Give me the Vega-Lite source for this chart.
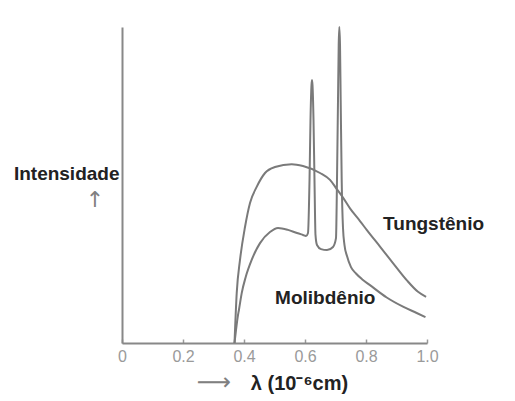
{
  "$schema": "https://vega.github.io/schema/vega-lite/v6.json",
  "width": 305,
  "height": 316,
  "autosize": {"type": "none"},
  "padding": {"left": 122, "top": 27, "right": 88, "bottom": 58},
  "background": "white",
  "config": {"view": {"stroke": null}},
  "datasets": {
    "curves": [
      {"serie": "Tungstênio", "lambda": 0.3689, "I": 0},
      {"serie": "Tungstênio", "lambda": 0.3761, "I": 15.8},
      {"serie": "Tungstênio", "lambda": 0.3869, "I": 26.3},
      {"serie": "Tungstênio", "lambda": 0.4033, "I": 36.7},
      {"serie": "Tungstênio", "lambda": 0.4197, "I": 44.3},
      {"serie": "Tungstênio", "lambda": 0.4416, "I": 49.4},
      {"serie": "Tungstênio", "lambda": 0.4689, "I": 53.8},
      {"serie": "Tungstênio", "lambda": 0.5016, "I": 55.7},
      {"serie": "Tungstênio", "lambda": 0.5564, "I": 56.6},
      {"serie": "Tungstênio", "lambda": 0.5934, "I": 56.0},
      {"serie": "Tungstênio", "lambda": 0.6492, "I": 53.8},
      {"serie": "Tungstênio", "lambda": 0.682, "I": 51.6},
      {"serie": "Tungstênio", "lambda": 0.7049, "I": 48.6},
      {"serie": "Tungstênio", "lambda": 0.7246, "I": 46.0},
      {"serie": "Tungstênio", "lambda": 0.7475, "I": 42.6},
      {"serie": "Tungstênio", "lambda": 0.7803, "I": 38.6},
      {"serie": "Tungstênio", "lambda": 0.8023, "I": 35.8},
      {"serie": "Tungstênio", "lambda": 0.8459, "I": 30.5},
      {"serie": "Tungstênio", "lambda": 0.8885, "I": 25.3},
      {"serie": "Tungstênio", "lambda": 0.9334, "I": 19.9},
      {"serie": "Tungstênio", "lambda": 0.9705, "I": 16.2},
      {"serie": "Tungstênio", "lambda": 0.997, "I": 14.6},
      {"serie": "Molibdênio", "lambda": 0.3689, "I": 0},
      {"serie": "Molibdênio", "lambda": 0.3738, "I": 4.1},
      {"serie": "Molibdênio", "lambda": 0.3793, "I": 8.2},
      {"serie": "Molibdênio", "lambda": 0.3836, "I": 10.6},
      {"serie": "Molibdênio", "lambda": 0.3925, "I": 15.8},
      {"serie": "Molibdênio", "lambda": 0.4056, "I": 20.9},
      {"serie": "Molibdênio", "lambda": 0.4252, "I": 26.3},
      {"serie": "Molibdênio", "lambda": 0.4525, "I": 31.6},
      {"serie": "Molibdênio", "lambda": 0.4852, "I": 35.1},
      {"serie": "Molibdênio", "lambda": 0.5115, "I": 36.4},
      {"serie": "Molibdênio", "lambda": 0.5443, "I": 35.8},
      {"serie": "Molibdênio", "lambda": 0.5738, "I": 34.8},
      {"serie": "Molibdênio", "lambda": 0.5934, "I": 34.2},
      {"serie": "Molibdênio", "lambda": 0.6033, "I": 33.9},
      {"serie": "Molibdênio", "lambda": 0.6098, "I": 34.8},
      {"serie": "Molibdênio", "lambda": 0.6148, "I": 51.6},
      {"serie": "Molibdênio", "lambda": 0.618, "I": 70.6},
      {"serie": "Molibdênio", "lambda": 0.6213, "I": 81.6},
      {"serie": "Molibdênio", "lambda": 0.623, "I": 83.2},
      {"serie": "Molibdênio", "lambda": 0.6246, "I": 81.6},
      {"serie": "Molibdênio", "lambda": 0.6279, "I": 70.6},
      {"serie": "Molibdênio", "lambda": 0.6311, "I": 51.6},
      {"serie": "Molibdênio", "lambda": 0.6344, "I": 34.2},
      {"serie": "Molibdênio", "lambda": 0.6393, "I": 31.0},
      {"serie": "Molibdênio", "lambda": 0.6525, "I": 29.7},
      {"serie": "Molibdênio", "lambda": 0.6721, "I": 29.4},
      {"serie": "Molibdênio", "lambda": 0.6918, "I": 30.4},
      {"serie": "Molibdênio", "lambda": 0.7016, "I": 33.2},
      {"serie": "Molibdênio", "lambda": 0.7049, "I": 51.6},
      {"serie": "Molibdênio", "lambda": 0.7082, "I": 76.9},
      {"serie": "Molibdênio", "lambda": 0.7105, "I": 94.3},
      {"serie": "Molibdênio", "lambda": 0.7125, "I": 100},
      {"serie": "Molibdênio", "lambda": 0.7148, "I": 94.3},
      {"serie": "Molibdênio", "lambda": 0.717, "I": 76.9},
      {"serie": "Molibdênio", "lambda": 0.7203, "I": 51.6},
      {"serie": "Molibdênio", "lambda": 0.7246, "I": 36.4},
      {"serie": "Molibdênio", "lambda": 0.7295, "I": 31.0},
      {"serie": "Molibdênio", "lambda": 0.7377, "I": 27.5},
      {"serie": "Molibdênio", "lambda": 0.7508, "I": 24.0},
      {"serie": "Molibdênio", "lambda": 0.7672, "I": 22.0},
      {"serie": "Molibdênio", "lambda": 0.7869, "I": 20.2},
      {"serie": "Molibdênio", "lambda": 0.8131, "I": 18.3},
      {"serie": "Molibdênio", "lambda": 0.8679, "I": 14.4},
      {"serie": "Molibdênio", "lambda": 0.9213, "I": 11.5},
      {"serie": "Molibdênio", "lambda": 0.9662, "I": 9.5},
      {"serie": "Molibdênio", "lambda": 0.995, "I": 8.2}
    ],
    "labels": [
      {"label": "Tungstênio", "lambda": 0.856, "I": 37.7},
      {"label": "Molibdênio", "lambda": 0.502, "I": 14.2}
    ],
    "arrows": [
      {"label": "↑", "lambda": -0.0885, "I": 45.3, "size": 22},
      {"label": "⟶", "lambda": 0.3016, "I": -12.66, "size": 24}
    ]
  },
  "layer": [
    {
      "data": {"name": "curves"},
      "mark": {"type": "line", "color": "#7a7a7a", "strokeWidth": 2, "interpolate": "monotone", "clip": false},
      "encoding": {
        "x": {
          "field": "lambda", "type": "quantitative",
          "scale": {"domain": [0, 1], "nice": false},
          "axis": {
            "values": [0, 0.2, 0.4, 0.6, 0.8, 1],
            "labelExpr": "datum.value == 0 ? '0' : format(datum.value, '.1f')",
            "grid": false,
            "domainColor": "#888888", "domainWidth": 2,
            "tickColor": "#999999", "tickSize": -4, "tickWidth": 1.5,
            "labelColor": "#9a9a9a", "labelFont": "Liberation Sans", "labelFontSize": 16,
            "labelPadding": 9, "labelFlush": false,
            "title": "λ (10⁻⁶cm)",
            "titleFont": "Liberation Sans", "titleFontSize": 20, "titleFontWeight": "bold",
            "titleColor": "#222222",
            "titleX": 177, "titleY": 40, "titleAnchor": null, "titleAlign": "center", "titleBaseline": "middle"
          }
        },
        "y": {
          "field": "I", "type": "quantitative",
          "scale": {"domain": [0, 100], "nice": false},
          "axis": {
            "ticks": false, "labels": false, "grid": false,
            "domainColor": "#888888", "domainWidth": 2,
            "title": "Intensidade",
            "titleFont": "Liberation Sans", "titleFontSize": 19, "titleFontWeight": "bold",
            "titleColor": "#222222", "titleAngle": 0,
            "titleAlign": "right", "titleBaseline": "middle",
            "titleX": -3, "titleY": 146
          }
        },
        "detail": {"field": "serie"}
      }
    },
    {
      "data": {"name": "labels"},
      "mark": {"type": "text", "align": "left", "baseline": "middle", "font": "Liberation Sans", "fontSize": 19, "fontWeight": "bold", "color": "#222222"},
      "encoding": {
        "x": {"field": "lambda", "type": "quantitative"},
        "y": {"field": "I", "type": "quantitative"},
        "text": {"field": "label"}
      }
    },
    {
      "data": {"name": "arrows"},
      "mark": {"type": "text", "align": "center", "baseline": "middle", "font": "DejaVu Sans", "color": "#808080", "clip": false},
      "encoding": {
        "x": {"field": "lambda", "type": "quantitative"},
        "y": {"field": "I", "type": "quantitative"},
        "size": {"field": "size", "type": "quantitative", "scale": null},
        "text": {"field": "label"}
      }
    }
  ]
}
